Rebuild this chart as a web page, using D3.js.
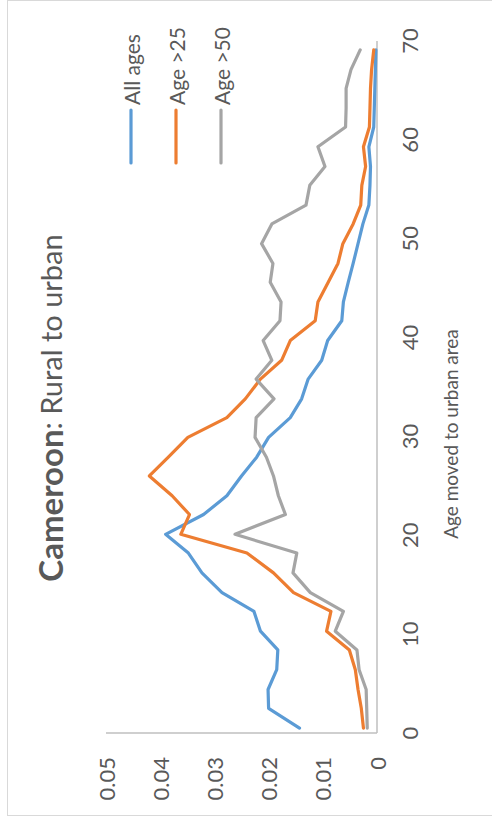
<!DOCTYPE html>
<html>
<head>
<meta charset="utf-8">
<script src="https://cdn.jsdelivr.net/npm/d3@7/dist/d3.min.js"></script>
<style>
  html, body { margin: 0; padding: 0; background: #fff; }
  svg { display: block; }
  text { font-family: Lato, "Open Sans", sans-serif; fill: #595959; }
</style>
</head>
<body>
<svg id="chart" width="492" height="822"></svg>
<script>
// ---- data ----
const ages = [0.5, 2.5, 4.4, 6.4, 8.4, 10.3, 12.3, 14.2, 16.2, 18.2, 20.1, 22.1, 24.0, 26.0, 27.9, 29.9, 31.9, 33.8,
              35.8, 37.7, 39.7, 41.7, 43.6, 45.6, 47.5, 49.5, 51.5, 53.4, 55.4, 57.3, 59.3, 61.3, 63.2, 65.2, 67.1, 69.1];
const allAges = [0.0143, 0.0200, 0.0201, 0.0185, 0.0183, 0.0215, 0.0227, 0.0286, 0.0323, 0.0348, 0.0390, 0.0320,
                 0.0277, 0.0250, 0.0222, 0.0200, 0.0160, 0.0139, 0.0127, 0.0102, 0.0091, 0.0065, 0.0062, 0.0053,
                 0.0044, 0.0035, 0.0026, 0.0015, 0.0013, 0.0012, 0.0015, 0.0006, 0.0005, 0.0004, 0.0003, 0.0002];
const age25 = [0.0025, 0.0029, 0.0035, 0.0040, 0.0051, 0.0093, 0.0085, 0.0154, 0.0191, 0.0240, 0.0362, 0.0346,
               0.0378, 0.0420, 0.0385, 0.0349, 0.0277, 0.0243, 0.0215, 0.0176, 0.0160, 0.0114, 0.0109, 0.0090,
               0.0072, 0.0063, 0.0044, 0.0030, 0.0028, 0.0021, 0.0025, 0.0014, 0.0013, 0.0012, 0.0010, 0.0006];
const age50 = [0.0018, 0.0019, 0.0020, 0.0033, 0.0037, 0.0077, 0.0062, 0.0123, 0.0155, 0.0148, 0.0262, 0.0169,
               0.0182, 0.0191, 0.0204, 0.0225, 0.0223, 0.0190, 0.0223, 0.0194, 0.0210, 0.0179, 0.0177, 0.0197,
               0.0192, 0.0213, 0.0194, 0.0131, 0.0124, 0.0096, 0.0109, 0.0058, 0.0057, 0.0057, 0.0048, 0.0031];
const seriesNames = ["All ages", "Age >25", "Age >50"];
const seriesColors = ["#5B9BD5", "#ED7D31", "#A5A5A5"];
const ageTicks = [0, 10, 20, 30, 40, 50, 60, 70];
const valueTicks = [0, 0.01, 0.02, 0.03, 0.04, 0.05];
const valueTickLabels = ["0", "0.01", "0.02", "0.03", "0.04", "0.05"];

// ---- drawing (chart is drawn in its own frame, then rotated -90deg) ----
const W = 822, H = 492;
const svg = d3.select("#chart");

svg.append("rect").attr("x", 7.5).attr("y", 0.5).attr("width", 490).attr("height", 815)
   .attr("fill", "none").attr("stroke", "#D9D9D9").attr("stroke-width", 1);

const g = svg.append("g").attr("transform", `translate(0,${W}) rotate(-90)`);

const x = d3.scaleLinear().domain([0, 70]).range([89, 781]);
const y = d3.scaleLinear().domain([0, 0.05]).range([377, 106]);

// axis lines
g.append("line").attr("x1", x(0)).attr("x2", x(0)).attr("y1", y(0)).attr("y2", y(0.05))
  .attr("stroke", "#BFBFBF").attr("stroke-width", 1.5);
g.append("line").attr("x1", x(0)).attr("x2", x(70)).attr("y1", y(0)).attr("y2", y(0))
  .attr("stroke", "#BFBFBF").attr("stroke-width", 1.5);

// value tick labels
g.selectAll("text.vt").data(valueTicks).join("text").attr("class", "vt")
  .attr("x", 65).attr("y", d => y(d)).attr("text-anchor", "end").attr("dominant-baseline", "central")
  .style("font-size", "22px").text((d, i) => valueTickLabels[i]);

// age tick labels
g.selectAll("text.at").data(ageTicks).join("text").attr("class", "at")
  .attr("x", d => x(d)).attr("y", 409).attr("text-anchor", "middle").attr("dominant-baseline", "central")
  .style("font-size", "22px").text(d => d);

// axis title
g.append("text").attr("x", 388).attr("y", 450).attr("text-anchor", "middle").attr("dominant-baseline", "central")
  .style("font-size", "19px").text("Age moved to urban area");

// chart title
const t = g.append("text").attr("x", 414).attr("y", 50).attr("text-anchor", "middle").attr("dominant-baseline", "central");
t.append("tspan").style("font-weight", "bold").style("font-size", "33px").text("Cameroon");
t.append("tspan").style("font-size", "29px").text(": Rural to urban");

// series lines
const line = d3.line().x((d, i) => x(ages[i])).y(d => y(d));
[allAges, age25, age50].forEach((vals, k) => {
  g.append("path").datum(vals).attr("d", line).attr("fill", "none")
    .attr("stroke", seriesColors[k]).attr("stroke-width", 3.2)
    .attr("stroke-linejoin", "round").attr("stroke-linecap", "round");
});

// legend
seriesNames.forEach((name, k) => {
  const v = 131 + 45 * k;
  g.append("line").attr("x1", 659).attr("x2", 712).attr("y1", v).attr("y2", v)
    .attr("stroke", seriesColors[k]).attr("stroke-width", 3.2).attr("stroke-linecap", "round");
  g.append("text").attr("x", 717).attr("y", v).attr("dominant-baseline", "central")
    .style("font-size", "21px").text(name);
});
</script>
</body>
</html>
